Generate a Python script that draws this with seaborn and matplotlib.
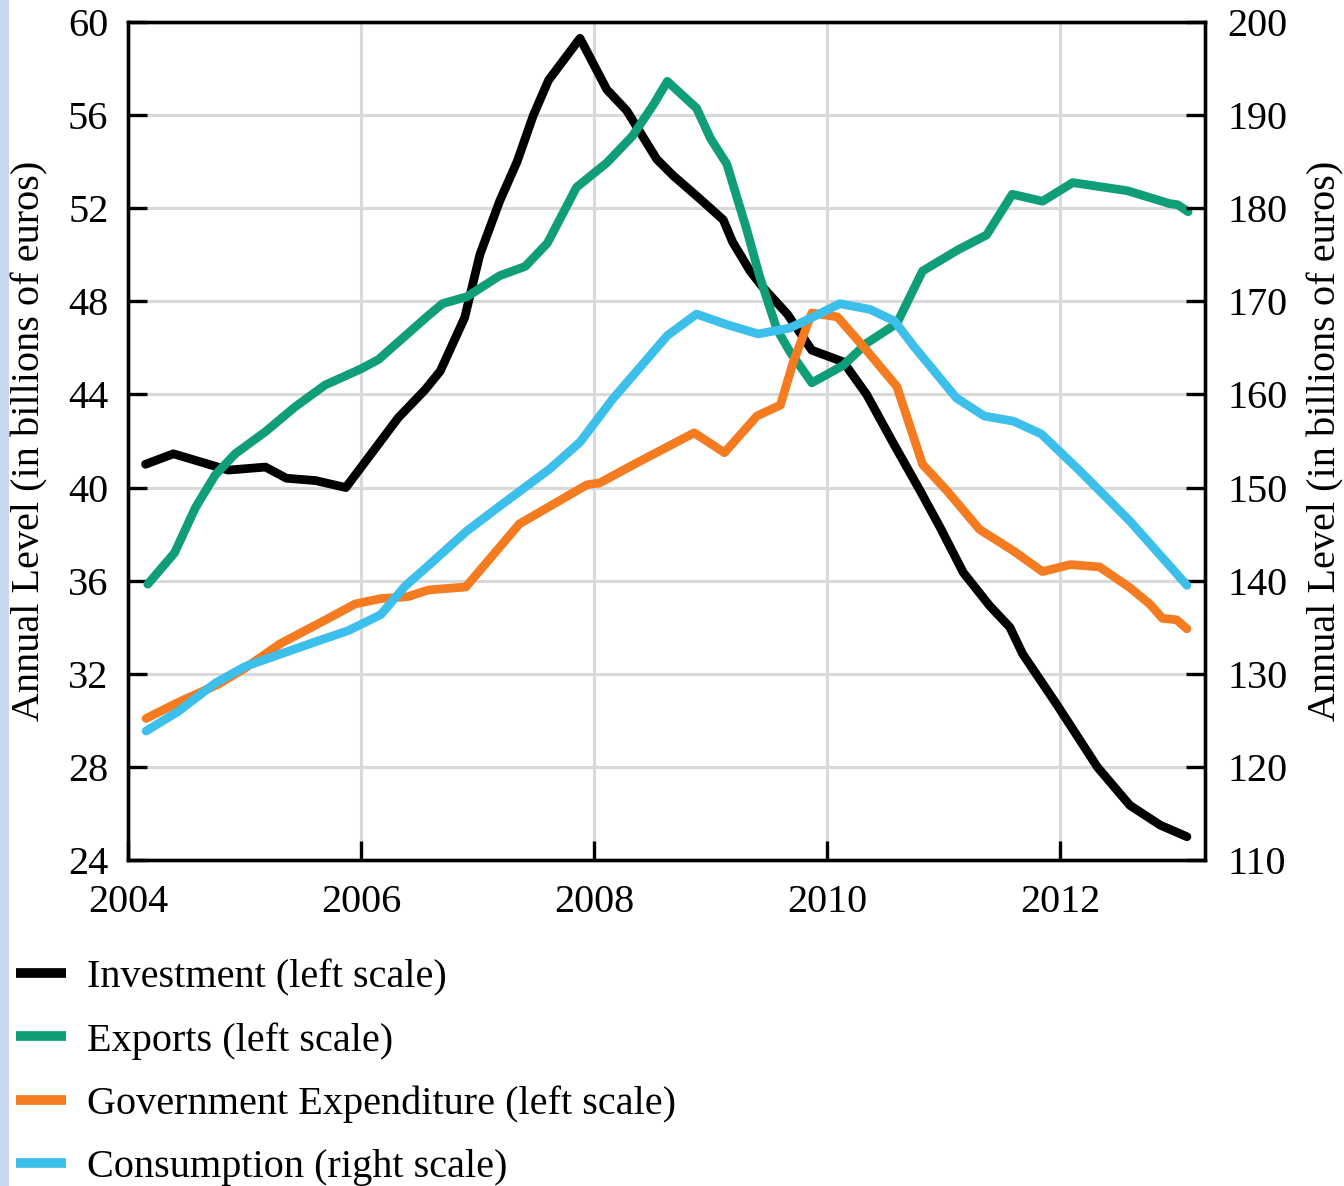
import matplotlib
matplotlib.use("Agg")
import matplotlib.pyplot as plt
import seaborn as sns
import numpy as np
from matplotlib.patches import Rectangle

# ---------------- data ----------------
inv_t = [2004.15, 2004.39, 2004.86, 2005.18, 2005.36, 2005.61, 2005.87, 2006.32, 2006.55, 2006.68,
         2006.89, 2007.02, 2007.19, 2007.34, 2007.48, 2007.61, 2007.88, 2008.11, 2008.28, 2008.54,
         2008.68, 2008.91, 2009.11, 2009.19, 2009.34, 2009.45, 2009.66, 2009.87, 2010.14, 2010.34,
         2010.57, 2010.80, 2010.97, 2011.17, 2011.40, 2011.57, 2011.68, 2011.97, 2012.32, 2012.60,
         2012.86, 2013.09]
inv_v = [41.0, 41.45, 40.75, 40.88, 40.4, 40.3, 40.0, 43.0, 44.2, 45.0,
         47.3, 50.0, 52.3, 54.0, 56.0, 57.5, 59.3, 57.1, 56.2, 54.1,
         53.4, 52.4, 51.5, 50.55, 49.3, 48.6, 47.45, 45.9, 45.4, 44.0,
         41.9, 39.86, 38.3, 36.35, 34.9, 34.0, 32.85, 30.7, 28.0, 26.35,
         25.5, 25.0]

exp_t = [2004.17, 2004.40, 2004.58, 2004.75, 2004.92, 2005.18, 2005.43, 2005.69, 2006.00, 2006.15,
         2006.58, 2006.70, 2006.91, 2007.19, 2007.41, 2007.60, 2007.85, 2008.11, 2008.33, 2008.51,
         2008.63, 2008.88, 2009.00, 2009.14, 2009.31, 2009.42, 2009.57, 2009.68, 2009.87, 2010.14,
         2010.34, 2010.60, 2010.82, 2011.12, 2011.37, 2011.59, 2011.85, 2012.11, 2012.58, 2012.94,
         2013.01, 2013.10]
exp_v = [35.85, 37.2, 39.15, 40.55, 41.45, 42.4, 43.45, 44.4, 45.1, 45.5,
         47.4, 47.9, 48.2, 49.1, 49.5, 50.5, 52.9, 53.95, 55.1, 56.45,
         57.45, 56.3, 55.0, 53.9, 51.1, 49.1, 46.8, 45.85, 44.5, 45.25,
         46.2, 47.05, 49.3, 50.2, 50.85, 52.6, 52.3, 53.1, 52.75, 52.2,
         52.15, 51.85]

gov_t = [2004.155, 2004.43, 2004.77, 2005.00, 2005.31, 2005.72, 2005.95, 2006.17, 2006.40, 2006.58,
         2006.90, 2007.36, 2007.94, 2008.05, 2008.33, 2008.86, 2009.12, 2009.40, 2009.60, 2009.71,
         2009.87, 2010.09, 2010.31, 2010.60, 2010.82, 2011.03, 2011.31, 2011.60, 2011.85, 2012.09,
         2012.34, 2012.60, 2012.77, 2012.88, 2013.00, 2013.09]
gov_v = [30.08, 30.77, 31.54, 32.23, 33.3, 34.38, 35.0, 35.23, 35.31, 35.6,
         35.73, 38.44, 40.12, 40.2, 40.96, 42.35, 41.5, 43.08, 43.54, 45.38,
         47.5, 47.33, 46.07, 44.34, 41.0, 39.86, 38.2, 37.28, 36.39, 36.69,
         36.59, 35.7, 35.0, 34.38, 34.32, 33.93]

con_t = [2004.155, 2004.43, 2004.75, 2005.00, 2005.35, 2005.66, 2005.89, 2006.17, 2006.38, 2006.59,
         2006.91, 2007.19, 2007.62, 2007.88, 2008.16, 2008.63, 2008.88, 2009.14, 2009.41, 2009.68,
         2009.85, 2010.11, 2010.37, 2010.58, 2010.74, 2011.11, 2011.35, 2011.60, 2011.84, 2012.17,
         2012.60, 2013.09]
con_v = [123.85, 125.95, 129.0, 130.75, 132.3, 133.65, 134.63, 136.35, 139.43, 141.75,
         145.35, 148.0, 152.0, 154.88, 159.5, 166.33, 168.63, 167.5, 166.5, 167.13,
         168.13, 169.75, 169.13, 167.88, 165.25, 159.63, 157.68, 157.13, 155.75, 151.8,
         146.4, 139.5]

labels = ["Investment (left scale)", "Exports (left scale)",
          "Government Expenditure (left scale)", "Consumption (right scale)"]
colors = ["#000000", "#0f9e78", "#f47b20", "#3cbfea"]
x_ticks = [2004, 2006, 2008, 2010, 2012]
left_ticks = [24, 28, 32, 36, 40, 44, 48, 52, 56, 60]
right_ticks = [110, 120, 130, 140, 150, 160, 170, 180, 190, 200]
y_label = "Annual Level (in billions of euros)"

# ---------------- style ----------------
sns.set_theme(style="white")
plt.rcParams['font.family'] = ['Liberation Serif', 'DejaVu Serif']
plt.rcParams['text.color'] = 'black'
plt.rcParams['axes.labelcolor'] = 'black'

fig = plt.figure(figsize=(13.44, 11.86), dpi=100)
fig.patches.append(Rectangle((0, 0), 9 / 1344, 1, transform=fig.transFigure,
                             facecolor="#c9d7ef", edgecolor="none", zorder=-1))

ax = fig.add_axes([128 / 1344, 1 - 860 / 1186, (1205 - 128) / 1344, (860 - 22) / 1186])
ax2 = ax.twinx()

lw = 6.3
series = [(inv_t, inv_v, ax), (exp_t, exp_v, ax), (gov_t, gov_v, ax), (con_t, con_v, ax2)]
for (t, v, a), lab, col in zip(series, labels, colors):
    sns.lineplot(x=t, y=v, ax=a, color=col, linewidth=lw, label=lab,
                 solid_joinstyle="round", solid_capstyle="round", legend=False)

ax.set_xlim(2004, 2013.245)
ax.set_ylim(24, 60)
ax2.set_ylim(110, 200)
ax.set_xticks(x_ticks)
ax.set_yticks(left_ticks)
ax2.set_yticks(right_ticks)
ax.set_xticklabels([str(x) for x in x_ticks])

ax.grid(True, color="#d9d9d9", linewidth=2.2)
ax2.grid(False)
ax.set_axisbelow(True)

for a in (ax, ax2):
    for s in a.spines.values():
        s.set_color("black")
        s.set_linewidth(2.4)
        s.set_visible(True)

ax.tick_params(axis="y", direction="in", length=14, width=2.4, labelsize=29, colors="black",
               pad=14, left=True, right=False)
ax.tick_params(axis="x", direction="in", length=14, width=2.4, labelsize=29, colors="black",
               pad=17, bottom=True, top=False)
ax2.tick_params(axis="y", direction="in", length=14, width=2.4, labelsize=29, colors="black",
                pad=16, right=True, left=False)

ax.set_ylabel(y_label, fontsize=29, labelpad=14)
ax2.set_ylabel(y_label, fontsize=29, labelpad=14, rotation=90)
ax.set_xlabel("")

handles = [plt.Line2D([], [], color=c, linewidth=7, solid_capstyle="butt") for c in colors]
fig.legend(handles, labels, loc="upper left", bbox_to_anchor=(0.0, 0.205),
           frameon=False, fontsize=29, handlelength=1.25, handletextpad=0.5,
           labelspacing=0.64, borderaxespad=0, labelcolor="black")

fig.savefig("out.png", dpi=100)
